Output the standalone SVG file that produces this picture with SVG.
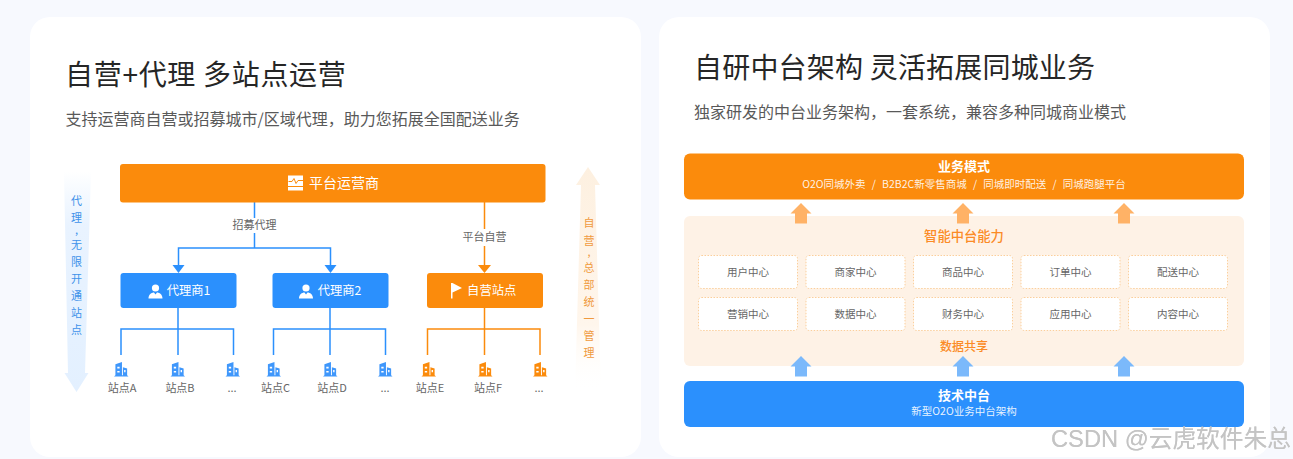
<svg xmlns="http://www.w3.org/2000/svg" width="1293" height="459" viewBox="0 0 1293 459">
<defs>
<style>
text{font-family:"Noto Sans CJK SC","Noto Sans",sans-serif}
.t{font-size:28px;fill:#262626}
.s{font-size:16px;fill:#595959}
.c{text-anchor:middle}
.w{fill:#fff}
.lb{font-size:12.300px}
.lab{font-size:11px;fill:#666;text-anchor:middle}
.st{font-size:11px;fill:#666;text-anchor:middle}
.bl{stroke:#2b90fd;fill:none;stroke-width:1.5}
.or{stroke:#fb8b0c;fill:none;stroke-width:1.5}
.vb{font-size:11px;fill:#3f92ea;text-anchor:middle}
.vo{font-size:11px;fill:#f09a3e;text-anchor:middle}
.cm{font-size:8px;font-weight:700}
.cell{fill:#fff;stroke:#fbcf9c;stroke-width:1;stroke-dasharray:1.500 1.500}
.ct{font-size:10.5px;fill:#666;text-anchor:middle}
.up1{fill:#ffb266}
.up2{fill:#7bb9fb}
</style>
<linearGradient id="gb" x1="0" y1="0" x2="0" y2="1"><stop offset="0" stop-color="#e3f0ff" stop-opacity="0"/><stop offset=".25" stop-color="#e9f3ff"/><stop offset="1" stop-color="#e3f0ff"/></linearGradient>
<linearGradient id="go" x1="0" y1="0" x2="0" y2="1"><stop offset="0" stop-color="#fdf0e0"/><stop offset=".7" stop-color="#fff6ec"/><stop offset="1" stop-color="#fff" stop-opacity="0"/></linearGradient>
<symbol id="bld" viewBox="0 0 16 16" overflow="visible"><path d="M0 15.500L1.500 14V2.500L8.500 0V14L9.500 14V5.500L14 7V14L15.500 15.500Z" fill="currentColor"/><path d="M3.500 5h2.500v1.800h-2.500zM3.500 9.500h2.500v1.800h-2.500zM10.800 8.500h1.500v2.500h-1.500z" fill="#fff"/></symbol>
<symbol id="usr" viewBox="0 0 14 15" overflow="visible"><circle cx="7" cy="4" r="3.600" fill="#fff"/><path d="M0 14.500C0 10.500 3 8.500 5.500 8.500L7 10.500L8.500 8.500C11 8.500 14 10.500 14 14.500Z" fill="#fff"/></symbol>
<path id="up" d="M-10.500 0L0-10.500L10.500 0H6V10H-6V0Z"/>
</defs>
<rect width="1293" height="459" fill="#f7f9fe"/>
<g id="card-left"><rect x="30" y="17" width="611" height="440" rx="20" fill="#fff"/>
<text class="t" x="65" y="85" letter-spacing=".7">自营+代理 多站点运营</text>
<text class="s" x="65.500" y="125">支持运营商自营或招募城市/区域代理，助力您拓展全国配送业务</text></g>
<g id="card-right"><rect x="659" y="17" width="611" height="440" rx="20" fill="#fff"/>
<text class="t" x="694" y="78" letter-spacing=".2">自研中台架构 灵活拓展同城业务</text>
<text class="s" x="694" y="118">独家研发的中台业务架构，一套系统，兼容多种同城商业模式</text></g>

<g id="side-arrows">
<path d="M64 172H91L85 373H88.500L76.500 392L64.500 373H68Z" fill="url(#gb)"/>
<path d="M588 167L600 185H595L601 392H575L581 185H576Z" fill="url(#go)"/>
<text class="vb"><tspan x="76.500" y="205">代</tspan><tspan x="76.500" y="222">理</tspan><tspan class="cm" x="76.500" y="233.500">,</tspan><tspan x="76.500" y="249">无</tspan><tspan x="76.500" y="266">限</tspan><tspan x="76.500" y="283">开</tspan><tspan x="76.500" y="300">通</tspan><tspan x="76.500" y="317">站</tspan><tspan x="76.500" y="334">点</tspan></text>
<text class="vo"><tspan x="589" y="227">自</tspan><tspan x="589" y="245">营</tspan><tspan class="cm" x="589" y="255.500">,</tspan><tspan x="589" y="272">总</tspan><tspan x="589" y="289">部</tspan><tspan x="589" y="306">统</tspan><tspan x="589" y="323">一</tspan><tspan x="589" y="340">管</tspan><tspan x="589" y="357">理</tspan></text>
</g>

<g id="connectors">
<path class="bl" d="M254.500 202V218M254.500 233V248M178.500 266V248H330.500V266"/>
<path d="M172.500 265H184.500L178.500 273ZM324.500 265H336.500L330.500 273Z" fill="#2b90fd"/>
<path class="or" d="M484.500 202V229M484.500 246V266"/>
<path d="M478 265H491L484.500 273Z" fill="#fb8b0c"/>
<path class="bl" d="M178 308V355M121 355V329H233.500V355"/>
<path class="bl" d="M330 308V355M273.500 355V329H385.500V355"/>
<path class="or" d="M484.500 308V355M427.500 355V329H540V355"/>
</g>

<g id="n-platform"><rect x="120" y="164" width="425.500" height="38.500" rx="3" fill="#fb8b0c"/>
<rect x="288" y="175.500" width="15" height="10.500" fill="#fff"/><path d="M288.500 181.500h3.500l2-3l2 5l2-3h5" stroke="#fb8b0c" fill="none"/><rect x="288" y="187" width="15" height="3.500" fill="#fff"/>
<text class="w c" x="344" y="188" font-size="14">平台运营商</text></g>
<text class="lab" x="254.500" y="229">招募代理</text>
<text class="lab" x="484.500" y="241">平台自营</text>
<g id="n-agent1"><rect x="120.500" y="273" width="116" height="35" rx="3" fill="#2b90fd"/><use href="#usr" x="148.500" y="284" width="14" height="15"/><text class="w c lb" x="188.500" y="295">代理商1</text></g>
<g id="n-agent2"><rect x="272.500" y="273" width="116" height="35" rx="3" fill="#2b90fd"/><use href="#usr" x="299" y="284" width="14" height="15"/><text class="w c lb" x="339.500" y="295">代理商2</text></g>
<g id="n-self"><rect x="427" y="273" width="116" height="35" rx="3" fill="#fb8b0c"/><path d="M451 283V298.500H452.500V292.500L462 288L452.500 283Z" fill="#fff"/><text class="w c lb" x="491.700" y="295">自营站点</text></g>

<g id="n-sites">
<g color="#3f97fb"><use href="#bld" x="114" y="362" width="15" height="15"/><use href="#bld" x="170.500" y="362" width="15" height="15"/><use href="#bld" x="225.500" y="362" width="15" height="15"/><use href="#bld" x="266.500" y="362" width="15" height="15"/><use href="#bld" x="323" y="362" width="15" height="15"/><use href="#bld" x="378" y="362" width="15" height="15"/></g>
<g color="#fb8b0c"><use href="#bld" x="421.500" y="362" width="15" height="15"/><use href="#bld" x="478" y="362" width="15" height="15"/><use href="#bld" x="533" y="362" width="15" height="15"/></g>
<text class="st" x="122" y="392">站点A</text><text class="st" x="180" y="392">站点B</text><text class="st" x="232" y="392">...</text>
<text class="st" x="275.500" y="392">站点C</text><text class="st" x="332" y="392">站点D</text><text class="st" x="385" y="392">...</text>
<text class="st" x="430" y="392">站点E</text><text class="st" x="488" y="392">站点F</text><text class="st" x="539" y="392">...</text>
</g>

<g id="n-business"><rect x="684" y="153.500" width="560" height="46" rx="6" fill="#fb8b0c"/>
<text class="w c" x="964" y="171" font-size="13" font-weight="700">业务模式</text>
<text class="w c" x="964" y="187.500" font-size="10.500" fill-opacity=".9" word-spacing=".75" xml:space="preserve">O2O同城外卖  /  B2B2C新零售商城  /  同城即时配送  /  同城跑腿平台</text></g>

<g id="n-capability"><rect x="684" y="216" width="560" height="150" rx="6" fill="#fef2e6"/>
<text class="c" x="964" y="241" font-size="13.300" font-weight="500" fill="#fb8b26">智能中台能力</text>
<text class="c" x="964" y="351" font-size="12" font-weight="500" fill="#fb8b26">数据共享</text></g>

<g id="up-arrows">
<use href="#up" class="up1" x="801" y="213.500"/><use href="#up" class="up1" x="963" y="213.500"/><use href="#up" class="up1" x="1124" y="213.500"/>
</g>

<g id="cells">
<rect class="cell" x="698.500" y="255.500" width="99" height="33" rx="3"/><text class="ct" x="748" y="276">用户中心</text>
<rect class="cell" x="806" y="255.500" width="99" height="33" rx="3"/><text class="ct" x="855.500" y="276">商家中心</text>
<rect class="cell" x="913.500" y="255.500" width="99" height="33" rx="3"/><text class="ct" x="963" y="276">商品中心</text>
<rect class="cell" x="1021" y="255.500" width="99" height="33" rx="3"/><text class="ct" x="1070.500" y="276">订单中心</text>
<rect class="cell" x="1128.500" y="255.500" width="99" height="33" rx="3"/><text class="ct" x="1178" y="276">配送中心</text>
<rect class="cell" x="698.500" y="297.500" width="99" height="33" rx="3"/><text class="ct" x="748" y="318">营销中心</text>
<rect class="cell" x="806" y="297.500" width="99" height="33" rx="3"/><text class="ct" x="855.500" y="318">数据中心</text>
<rect class="cell" x="913.500" y="297.500" width="99" height="33" rx="3"/><text class="ct" x="963" y="318">财务中心</text>
<rect class="cell" x="1021" y="297.500" width="99" height="33" rx="3"/><text class="ct" x="1070.500" y="318">应用中心</text>
<rect class="cell" x="1128.500" y="297.500" width="99" height="33" rx="3"/><text class="ct" x="1178" y="318">内容中心</text>
</g>

<g id="down-arrows">
<use href="#up" class="up2" x="801" y="366.500"/><use href="#up" class="up2" x="963" y="366.500"/><use href="#up" class="up2" x="1124" y="366.500"/>
</g>

<g id="n-tech"><rect x="684" y="381" width="560" height="46" rx="6" fill="#2b90fd"/>
<text class="w c" x="964" y="400" font-size="13" font-weight="700">技术中台</text>
<text class="w c" x="964" y="415" font-size="10.500" fill-opacity=".9">新型O2O业务中台架构</text></g>

<text x="1051" y="447" font-size="23.700" fill="#c4c4c4" style="font-family:'Liberation Sans','Noto Sans CJK SC',sans-serif;filter:drop-shadow(.6px .6px .4px #d0d0d0)">CSDN @云虎软件朱总</text>
</svg>
